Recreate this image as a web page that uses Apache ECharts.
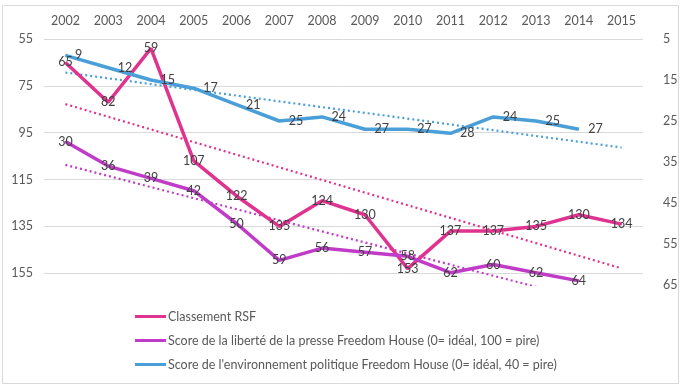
<!DOCTYPE html>
<html>
<head>
<meta charset="utf-8">
<script src="https://cdn.jsdelivr.net/npm/echarts@6/dist/echarts.min.js"></script>
<style>
  html, body { margin: 0; padding: 0; background: #fff; }
  #chart { width: 683px; height: 386px; }
</style>
</head>
<body>
<div id="chart"></div>
<script>
const years = ['2002', '2003', '2004', '2005', '2006', '2007', '2008', '2009', '2010', '2011', '2012', '2013', '2014', '2015'];
// classement RSF (axe de gauche)
const rsf = [65, 82, 59, 107, 122, 135, 124, 130, 153, 137, 137, 135, 130, 134];
// scores Freedom House (axe de droite)
const fhPresse = [30, 36, 39, 42, 50, 59, 56, 57, 58, 62, 60, 62, 64];
const fhPolitique = [9, 12, 15, 17, 21, 25, 24, 27, 27, 28, 24, 25, 27];
const leftTicks = [55, 75, 95, 115, 135, 155];
const rightTicks = [5, 15, 25, 35, 45, 55, 65];

const names = [
  'Classement RSF',
  'Score de la liberté de la presse Freedom House (0= idéal, 100 = pire)',
  "Score de l'environnement politique Freedom House (0= idéal, 40 = pire)"
];
const colors = ['#e0338f', '#c03cc8', '#4a9fd8'];

// tendance linéaire (moindres carrés) prolongée jusqu'à la dernière année
function trend(vals) {
  const n = vals.length;
  let sx = 0, sy = 0, sxy = 0, sxx = 0;
  vals.forEach((v, i) => { sx += i; sy += v; sxy += i * v; sxx += i * i; });
  const b = (n * sxy - sx * sy) / (n * sxx - sx * sx);
  const a = (sy - b * sx) / n;
  return years.map((y, i) => a + b * i);
}

const font = 'Lato, "Open Sans", sans-serif';

function mainSeries(name, data, color, yIdx, pos) {
  return {
    name: name,
    type: 'line',
    yAxisIndex: yIdx,
    data: data,
    symbol: 'circle',
    symbolSize: 1,
    itemStyle: { color: color },
    lineStyle: { width: 3.5, color: color },
    label: {
      show: true,
      position: pos,
      distance: pos === 'right' ? 9 : 0,
      color: '#404040',
      fontSize: 12.5,
      fontFamily: font
    },
    z: 3
  };
}

function trendSeries(data, color, yIdx) {
  return {
    type: 'line',
    yAxisIndex: yIdx,
    data: trend(data),
    symbol: 'none',
    silent: true,
    clip: true,
    lineStyle: { width: 2.2, type: [2, 3], color: color },
    z: 2
  };
}

const chart = echarts.init(document.getElementById('chart'));
chart.setOption({
  animation: false,
  graphic: [{
    type: 'rect',
    shape: { x: 2.5, y: 5.5, width: 676, height: 378 },
    style: { fill: 'none', stroke: '#d9d9d9', lineWidth: 1 },
    silent: true
  }],
  grid: { left: 44, right: 40, top: 39, bottom: 101, containLabel: false, outerBoundsMode: 'none' },
  legend: {
    data: names,
    orient: 'vertical',
    left: 130,
    top: 305,
    itemGap: 11,
    itemWidth: 31,
    itemHeight: 3,
    icon: 'rect',
    textStyle: { color: '#595959', fontSize: 12.5, fontFamily: font, padding: [0, 0, 0, -3] }
  },
  xAxis: {
    type: 'category',
    position: 'top',
    data: years,
    boundaryGap: true,
    axisLine: { show: false },
    axisTick: { show: false },
    axisLabel: { color: '#595959', fontSize: 12.5, fontFamily: font, margin: 12 }
  },
  yAxis: [{
    type: 'value',
    inverse: true,
    position: 'left',
    min: 55,
    max: 160,
    axisLine: { show: false },
    axisTick: { show: false, customValues: leftTicks },
    axisLabel: { customValues: leftTicks, align: 'right', color: '#595959', fontSize: 12.5, fontFamily: font, margin: 11 },
    splitLine: { show: true, lineStyle: { color: '#d9d9d9', width: 1 } }
  }, {
    type: 'value',
    inverse: true,
    position: 'right',
    min: 5,
    max: 65,
    axisLine: { show: false },
    axisTick: { show: false, customValues: rightTicks },
    axisLabel: { customValues: rightTicks, align: 'left', color: '#595959', fontSize: 12.5, fontFamily: font, margin: 20 },
    splitLine: { show: false }
  }],
  series: [
    trendSeries(rsf, colors[0], 0),
    trendSeries(fhPresse, colors[1], 1),
    trendSeries(fhPolitique, colors[2], 1),
    mainSeries(names[0], rsf, colors[0], 0, 'inside'),
    mainSeries(names[1], fhPresse, colors[1], 1, 'inside'),
    mainSeries(names[2], fhPolitique, colors[2], 1, 'right')
  ]
});
</script>
</body>
</html>
